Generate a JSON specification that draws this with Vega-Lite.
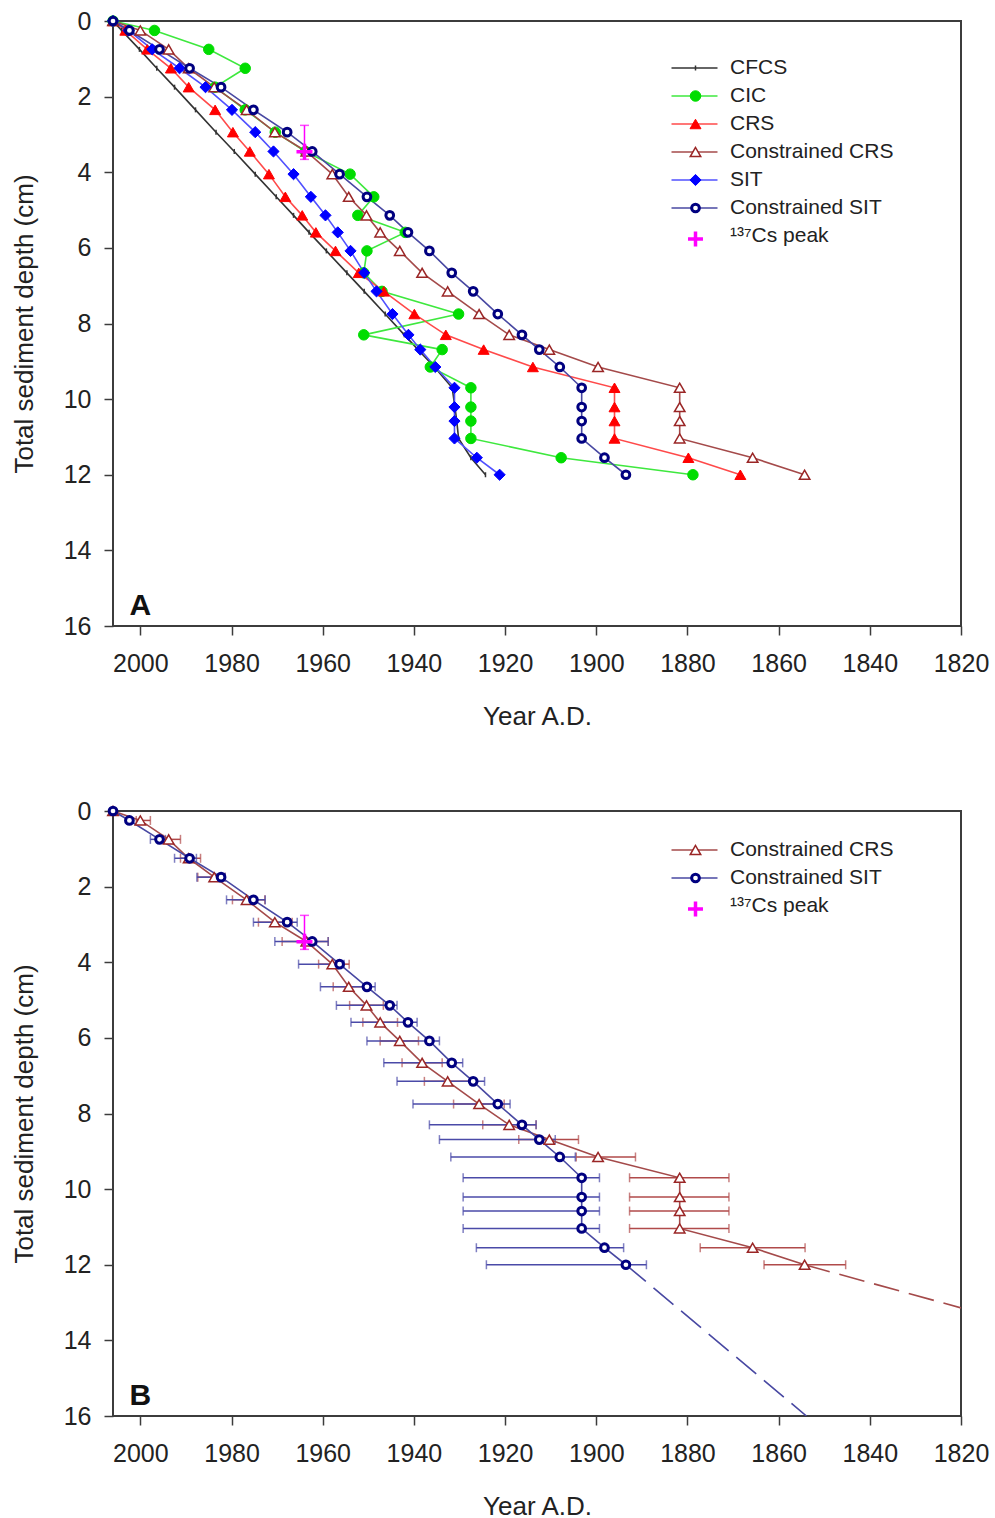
{
  "$schema": "https://vega.github.io/schema/vega-lite/v6.json",
  "background": "white",
  "padding": {"left": 10, "top": 8, "right": 5, "bottom": 0},
  "config": {
    "font": "Liberation Sans",
    "view": {"stroke": "#3c3c3c", "strokeWidth": 2},
    "axis": {
      "grid": false, "domain": false, "tickColor": "#3c3c3c", "tickSize": 9, "tickWidth": 1.5,
      "labelFont": "Liberation Sans", "labelFontSize": 25, "labelColor": "#222222",
      "titleFont": "Liberation Sans", "titleFontSize": 26, "titleFontWeight": "normal", "titleColor": "#222222",
      "labelFlush": false, "labelOverlap": false
    },
    "axisX": {"labelPadding": 16, "titlePadding": 27, "format": "d"},
    "axisY": {"labelPadding": 13, "titlePadding": 26},
    "legend": {"orient": "none", "padding": 0, "symbolSize": 100, "symbolStrokeWidth": 1.5, "symbolOpacity": 1,
      "labelFont": "Liberation Sans", "labelFontSize": 21, "labelColor": "#222222", "labelOffset": 25, "rowPadding": 6, "labelLimit": 400}
  },
  "datasets": {
    "profiles": [
      {"series": "CFCS", "depth": 0, "year": 2006},
      {"series": "CFCS", "depth": 0.25, "year": 2004.1},
      {"series": "CFCS", "depth": 0.75, "year": 2000.2},
      {"series": "CFCS", "depth": 1.25, "year": 1996.4},
      {"series": "CFCS", "depth": 1.75, "year": 1992.5},
      {"series": "CFCS", "depth": 2.35, "year": 1987.9},
      {"series": "CFCS", "depth": 2.94, "year": 1983.4},
      {"series": "CFCS", "depth": 3.45, "year": 1979.4},
      {"series": "CFCS", "depth": 4.05, "year": 1974.8},
      {"series": "CFCS", "depth": 4.65, "year": 1970.2},
      {"series": "CFCS", "depth": 5.14, "year": 1966.4},
      {"series": "CFCS", "depth": 5.59, "year": 1963.0},
      {"series": "CFCS", "depth": 6.08, "year": 1959.2},
      {"series": "CFCS", "depth": 6.66, "year": 1954.7},
      {"series": "CFCS", "depth": 7.15, "year": 1950.9},
      {"series": "CFCS", "depth": 7.75, "year": 1946.3},
      {"series": "CFCS", "depth": 8.3, "year": 1942.1},
      {"series": "CFCS", "depth": 8.69, "year": 1939.1},
      {"series": "CFCS", "depth": 9.15, "year": 1935.5},
      {"series": "CFCS", "depth": 9.7, "year": 1931.6},
      {"series": "CFCS", "depth": 10.21, "year": 1931.0},
      {"series": "CFCS", "depth": 10.58, "year": 1930.6},
      {"series": "CFCS", "depth": 11.04, "year": 1930.2},
      {"series": "CFCS", "depth": 11.55, "year": 1927.5},
      {"series": "CFCS", "depth": 12.0, "year": 1924.3},

      {"series": "CIC", "depth": 0, "year": 2006},
      {"series": "CIC", "depth": 0.25, "year": 1996.9},
      {"series": "CIC", "depth": 0.75, "year": 1985.0},
      {"series": "CIC", "depth": 1.25, "year": 1977.0},
      {"series": "CIC", "depth": 1.75, "year": 1983.6},
      {"series": "CIC", "depth": 2.35, "year": 1977.0},
      {"series": "CIC", "depth": 2.94, "year": 1970.4},
      {"series": "CIC", "depth": 3.45, "year": 1963.8},
      {"series": "CIC", "depth": 4.05, "year": 1954.0},
      {"series": "CIC", "depth": 4.65, "year": 1948.8},
      {"series": "CIC", "depth": 5.14, "year": 1952.3},
      {"series": "CIC", "depth": 5.59, "year": 1941.9},
      {"series": "CIC", "depth": 6.08, "year": 1950.3},
      {"series": "CIC", "depth": 6.66, "year": 1951.0},
      {"series": "CIC", "depth": 7.15, "year": 1947.0},
      {"series": "CIC", "depth": 7.75, "year": 1930.2},
      {"series": "CIC", "depth": 8.3, "year": 1951.0},
      {"series": "CIC", "depth": 8.69, "year": 1933.8},
      {"series": "CIC", "depth": 9.15, "year": 1936.4},
      {"series": "CIC", "depth": 9.7, "year": 1927.5},
      {"series": "CIC", "depth": 10.21, "year": 1927.5},
      {"series": "CIC", "depth": 10.58, "year": 1927.5},
      {"series": "CIC", "depth": 11.04, "year": 1927.5},
      {"series": "CIC", "depth": 11.55, "year": 1907.7},
      {"series": "CIC", "depth": 12.0, "year": 1878.8},

      {"series": "CRS", "depth": 0, "year": 2006},
      {"series": "CRS", "depth": 0.25, "year": 2003.3},
      {"series": "CRS", "depth": 0.75, "year": 1998.5},
      {"series": "CRS", "depth": 1.25, "year": 1993.3},
      {"series": "CRS", "depth": 1.75, "year": 1989.4},
      {"series": "CRS", "depth": 2.35, "year": 1983.6},
      {"series": "CRS", "depth": 2.94, "year": 1979.7},
      {"series": "CRS", "depth": 3.45, "year": 1976.0},
      {"series": "CRS", "depth": 4.05, "year": 1971.8},
      {"series": "CRS", "depth": 4.65, "year": 1968.2},
      {"series": "CRS", "depth": 5.14, "year": 1964.5},
      {"series": "CRS", "depth": 5.59, "year": 1961.5},
      {"series": "CRS", "depth": 6.08, "year": 1957.2},
      {"series": "CRS", "depth": 6.66, "year": 1952.1},
      {"series": "CRS", "depth": 7.15, "year": 1946.6},
      {"series": "CRS", "depth": 7.75, "year": 1939.9},
      {"series": "CRS", "depth": 8.3, "year": 1933.0},
      {"series": "CRS", "depth": 8.69, "year": 1924.7},
      {"series": "CRS", "depth": 9.15, "year": 1913.9},
      {"series": "CRS", "depth": 9.7, "year": 1896.0},
      {"series": "CRS", "depth": 10.21, "year": 1896.0},
      {"series": "CRS", "depth": 10.58, "year": 1896.0},
      {"series": "CRS", "depth": 11.04, "year": 1896.0},
      {"series": "CRS", "depth": 11.55, "year": 1879.8},
      {"series": "CRS", "depth": 12.0, "year": 1868.4},

      {"series": "Constrained CRS", "depth": 0, "year": 2006},
      {"series": "Constrained CRS", "depth": 0.25, "year": 2000.0, "lo": 1997.8, "hi": 2000.9},
      {"series": "Constrained CRS", "depth": 0.75, "year": 1993.8, "lo": 1991.2, "hi": 1995.0},
      {"series": "Constrained CRS", "depth": 1.25, "year": 1989.4, "lo": 1986.8, "hi": 1991.2},
      {"series": "Constrained CRS", "depth": 1.75, "year": 1983.8, "lo": 1981.4, "hi": 1987.4},
      {"series": "Constrained CRS", "depth": 2.35, "year": 1976.7, "lo": 1972.7, "hi": 1979.8},
      {"series": "Constrained CRS", "depth": 2.94, "year": 1970.5, "lo": 1966.7, "hi": 1974.1},
      {"series": "Constrained CRS", "depth": 3.45, "year": 1963.6, "lo": 1958.8, "hi": 1968.9},
      {"series": "Constrained CRS", "depth": 4.05, "year": 1957.9, "lo": 1954.2, "hi": 1960.9},
      {"series": "Constrained CRS", "depth": 4.65, "year": 1954.3, "lo": 1950.7, "hi": 1957.7},
      {"series": "Constrained CRS", "depth": 5.14, "year": 1950.4, "lo": 1946.7, "hi": 1954.1},
      {"series": "Constrained CRS", "depth": 5.59, "year": 1947.4, "lo": 1943.6, "hi": 1951.2},
      {"series": "Constrained CRS", "depth": 6.08, "year": 1943.1, "lo": 1939.0, "hi": 1947.4},
      {"series": "Constrained CRS", "depth": 6.66, "year": 1938.2, "lo": 1933.8, "hi": 1942.6},
      {"series": "Constrained CRS", "depth": 7.15, "year": 1932.6, "lo": 1927.6, "hi": 1937.7},
      {"series": "Constrained CRS", "depth": 7.75, "year": 1925.7, "lo": 1920.2, "hi": 1931.3},
      {"series": "Constrained CRS", "depth": 8.3, "year": 1919.1, "lo": 1913.2, "hi": 1924.9},
      {"series": "Constrained CRS", "depth": 8.69, "year": 1910.3, "lo": 1903.9, "hi": 1917.0},
      {"series": "Constrained CRS", "depth": 9.15, "year": 1899.6, "lo": 1891.4, "hi": 1904.4},
      {"series": "Constrained CRS", "depth": 9.7, "year": 1881.7, "lo": 1870.9, "hi": 1892.7},
      {"series": "Constrained CRS", "depth": 10.21, "year": 1881.7, "lo": 1870.9, "hi": 1892.7},
      {"series": "Constrained CRS", "depth": 10.58, "year": 1881.7, "lo": 1870.9, "hi": 1892.7},
      {"series": "Constrained CRS", "depth": 11.04, "year": 1881.7, "lo": 1870.9, "hi": 1892.7},
      {"series": "Constrained CRS", "depth": 11.55, "year": 1865.7, "lo": 1854.2, "hi": 1877.2},
      {"series": "Constrained CRS", "depth": 12.0, "year": 1854.3, "lo": 1845.3, "hi": 1863.2},

      {"series": "SIT", "depth": 0, "year": 2006},
      {"series": "SIT", "depth": 0.25, "year": 2002.6},
      {"series": "SIT", "depth": 0.75, "year": 1997.4},
      {"series": "SIT", "depth": 1.25, "year": 1991.4},
      {"series": "SIT", "depth": 1.75, "year": 1985.7},
      {"series": "SIT", "depth": 2.35, "year": 1979.9},
      {"series": "SIT", "depth": 2.94, "year": 1974.8},
      {"series": "SIT", "depth": 3.45, "year": 1970.8},
      {"series": "SIT", "depth": 4.05, "year": 1966.4},
      {"series": "SIT", "depth": 4.65, "year": 1962.6},
      {"series": "SIT", "depth": 5.14, "year": 1959.4},
      {"series": "SIT", "depth": 5.59, "year": 1956.7},
      {"series": "SIT", "depth": 6.08, "year": 1953.9},
      {"series": "SIT", "depth": 6.66, "year": 1950.9},
      {"series": "SIT", "depth": 7.15, "year": 1948.2},
      {"series": "SIT", "depth": 7.75, "year": 1944.7},
      {"series": "SIT", "depth": 8.3, "year": 1941.2},
      {"series": "SIT", "depth": 8.69, "year": 1938.6},
      {"series": "SIT", "depth": 9.15, "year": 1935.3},
      {"series": "SIT", "depth": 9.7, "year": 1931.1},
      {"series": "SIT", "depth": 10.21, "year": 1931.1},
      {"series": "SIT", "depth": 10.58, "year": 1931.1},
      {"series": "SIT", "depth": 11.04, "year": 1931.1},
      {"series": "SIT", "depth": 11.55, "year": 1926.2},
      {"series": "SIT", "depth": 12.0, "year": 1921.2},

      {"series": "Constrained SIT", "depth": 0, "year": 2006},
      {"series": "Constrained SIT", "depth": 0.25, "year": 2002.4, "lo": 2002.0, "hi": 2002.9},
      {"series": "Constrained SIT", "depth": 0.75, "year": 1995.8, "lo": 1994.5, "hi": 1997.8},
      {"series": "Constrained SIT", "depth": 1.25, "year": 1989.2, "lo": 1987.7, "hi": 1992.5},
      {"series": "Constrained SIT", "depth": 1.75, "year": 1982.3, "lo": 1981.4, "hi": 1987.6},
      {"series": "Constrained SIT", "depth": 2.35, "year": 1975.2, "lo": 1972.6, "hi": 1981.1},
      {"series": "Constrained SIT", "depth": 2.94, "year": 1967.8, "lo": 1965.6, "hi": 1975.2},
      {"series": "Constrained SIT", "depth": 3.45, "year": 1962.3, "lo": 1958.8, "hi": 1970.5},
      {"series": "Constrained SIT", "depth": 4.05, "year": 1956.3, "lo": 1955.3, "hi": 1965.3},
      {"series": "Constrained SIT", "depth": 4.65, "year": 1950.3, "lo": 1948.5, "hi": 1960.5},
      {"series": "Constrained SIT", "depth": 5.14, "year": 1945.3, "lo": 1943.7, "hi": 1957.0},
      {"series": "Constrained SIT", "depth": 5.59, "year": 1941.3, "lo": 1939.3, "hi": 1953.8},
      {"series": "Constrained SIT", "depth": 6.08, "year": 1936.6, "lo": 1934.4, "hi": 1950.3},
      {"series": "Constrained SIT", "depth": 6.66, "year": 1931.7, "lo": 1929.3, "hi": 1946.6},
      {"series": "Constrained SIT", "depth": 7.15, "year": 1927.0, "lo": 1924.5, "hi": 1943.7},
      {"series": "Constrained SIT", "depth": 7.75, "year": 1921.6, "lo": 1918.9, "hi": 1940.2},
      {"series": "Constrained SIT", "depth": 8.3, "year": 1916.3, "lo": 1913.2, "hi": 1936.6},
      {"series": "Constrained SIT", "depth": 8.69, "year": 1912.5, "lo": 1909.0, "hi": 1934.4},
      {"series": "Constrained SIT", "depth": 9.15, "year": 1908.0, "lo": 1904.6, "hi": 1931.9},
      {"series": "Constrained SIT", "depth": 9.7, "year": 1903.2, "lo": 1899.3, "hi": 1929.2},
      {"series": "Constrained SIT", "depth": 10.21, "year": 1903.2, "lo": 1899.3, "hi": 1929.2},
      {"series": "Constrained SIT", "depth": 10.58, "year": 1903.2, "lo": 1899.3, "hi": 1929.2},
      {"series": "Constrained SIT", "depth": 11.04, "year": 1903.2, "lo": 1899.3, "hi": 1929.2},
      {"series": "Constrained SIT", "depth": 11.55, "year": 1898.2, "lo": 1894.0, "hi": 1926.3},
      {"series": "Constrained SIT", "depth": 12.0, "year": 1893.5, "lo": 1889.0, "hi": 1924.1}
    ],
    "extrapolation": [
      {"series": "Constrained CRS", "depth": 12.0, "year": 1854.3},
      {"series": "Constrained CRS", "depth": 13.14, "year": 1820},
      {"series": "Constrained SIT", "depth": 12.0, "year": 1893.5},
      {"series": "Constrained SIT", "depth": 16.0, "year": 1853.9}
    ],
    "cesium": [
      {"series": "¹³⁷Cs peak", "year": 1964.0, "depth": 3.46, "dlo": 2.76, "dhi": 3.66}
    ]
  },
  "vconcat": [
    {
      "width": 848,
      "height": 605,
      "resolve": {"scale": {"color": "independent", "fill": "independent", "shape": "independent", "size": "independent", "strokeWidth": "independent", "stroke": "independent"}},
      "layer": [
        {
          "data": {"name": "profiles"},
          "mark": {"type": "line", "strokeWidth": 1.6},
          "encoding": {
            "x": {"field": "year", "type": "quantitative", "title": "Year A.D.", "scale": {"domain": [1820, 2006], "reverse": true, "nice": false, "zero": false}, "axis": {"values": [2000, 1980, 1960, 1940, 1920, 1900, 1880, 1860, 1840, 1820]}},
            "y": {"field": "depth", "type": "quantitative", "title": "Total sediment depth (cm)", "scale": {"domain": [0, 16], "reverse": true, "nice": false, "zero": false}, "axis": {"values": [0, 2, 4, 6, 8, 10, 12, 14, 16]}},
            "order": {"field": "depth", "type": "quantitative"},
            "stroke": {"field": "series", "type": "nominal",
              "scale": {"domain": ["CFCS", "CIC", "CRS", "Constrained CRS", "SIT", "Constrained SIT", "¹³⁷Cs peak"], "range": ["#333333", "#3ee83e", "#ff4a4a", "#a44a4a", "#5050ff", "#4848a2", "transparent"]},
              "legend": {"title": null, "legendX": 571, "legendY": 36.5, "symbolType": "M-4.6,0H4.6", "symbolStrokeWidth": 1.5}}
          }
        },
        {
          "data": {"name": "profiles"},
          "mark": {"type": "point", "filled": false, "opacity": 1},
          "encoding": {
            "x": {"field": "year", "type": "quantitative", "title": "Year A.D.", "scale": {"domain": [1820, 2006], "reverse": true, "nice": false, "zero": false}},
            "y": {"field": "depth", "type": "quantitative", "title": "Total sediment depth (cm)", "scale": {"domain": [0, 16], "reverse": true, "nice": false, "zero": false}},
            "color": {"field": "series", "type": "nominal",
              "scale": {"domain": ["CFCS", "CIC", "CRS", "Constrained CRS", "SIT", "Constrained SIT", "¹³⁷Cs peak"], "range": ["#333333", "#00dd00", "#ff0000", "#9a2626", "#0000ff", "#000080", "#ff00ff"]},
              "legend": {"title": null, "legendX": 572, "legendY": 36.5, "labelExpr": "' '", "labelOffset": -45}},
            "fill": {"field": "series", "type": "nominal",
              "scale": {"domain": ["CFCS", "CIC", "CRS", "Constrained CRS", "SIT", "Constrained SIT", "¹³⁷Cs peak"], "range": ["transparent", "#00dd00", "#ff0000", "#ffffff", "#0000ff", "#ffffff", "transparent"]},
              "legend": {"title": null, "legendX": 572, "legendY": 36.5, "labelExpr": "' '", "labelOffset": -45}},
            "shape": {"field": "series", "type": "nominal",
              "scale": {"domain": ["CFCS", "CIC", "CRS", "Constrained CRS", "SIT", "Constrained SIT", "¹³⁷Cs peak"], "range": ["M0,-1V1", "circle", "triangle-up", "triangle-up", "diamond", "circle", "M-2,0H2M0,-2V2"]},
              "legend": {"title": null, "legendX": 572, "legendY": 36.5, "labelExpr": "' '", "labelOffset": -45}},
            "size": {"field": "series", "type": "nominal",
              "scale": {"type": "ordinal", "domain": ["CFCS", "CIC", "CRS", "Constrained CRS", "SIT", "Constrained SIT", "¹³⁷Cs peak"], "range": [25, 110, 120, 110, 125, 60, 56]},
              "legend": {"title": null, "legendX": 572, "legendY": 36.5, "labelExpr": "' '", "labelOffset": -45}},
            "strokeWidth": {"field": "series", "type": "nominal",
              "scale": {"type": "ordinal", "domain": ["CFCS", "CIC", "CRS", "Constrained CRS", "SIT", "Constrained SIT", "¹³⁷Cs peak"], "range": [1.5, 1, 1, 1.5, 1, 3, 3.5]},
              "legend": {"title": null, "legendX": 572, "legendY": 36.5, "labelExpr": "' '", "labelOffset": -45}}
          }
        },
        {
          "data": {"name": "cesium"},
          "mark": {"type": "errorbar", "color": "#ff00ff", "thickness": 1.5, "ticks": {"size": 9}},
          "encoding": {
            "x": {"field": "year", "type": "quantitative", "title": "Year A.D.", "scale": {"domain": [1820, 2006], "reverse": true, "nice": false, "zero": false}},
            "y": {"field": "dlo", "type": "quantitative", "title": "Total sediment depth (cm)", "scale": {"domain": [0, 16], "reverse": true, "nice": false, "zero": false}},
            "y2": {"field": "dhi"}
          }
        },
        {
          "data": {"name": "cesium"},
          "mark": {"type": "point", "shape": "M-1,0H1M0,-1V1", "size": 256, "strokeWidth": 3.5, "color": "#ff00ff", "filled": false, "opacity": 1},
          "encoding": {
            "x": {"field": "year", "type": "quantitative", "title": "Year A.D.", "scale": {"domain": [1820, 2006], "reverse": true, "nice": false, "zero": false}},
            "y": {"field": "depth", "type": "quantitative", "title": "Total sediment depth (cm)", "scale": {"domain": [0, 16], "reverse": true, "nice": false, "zero": false}}
          }
        },
        {
          "data": {"values": [{}]},
          "mark": {"type": "text", "text": "A", "font": "Liberation Sans", "fontSize": 30, "fontWeight": "bold", "color": "#111111", "align": "center", "baseline": "middle"},
          "encoding": {
            "x": {"datum": 2000, "type": "quantitative", "title": "Year A.D.", "scale": {"domain": [1820, 2006], "reverse": true, "nice": false, "zero": false}},
            "y": {"datum": 15.47, "type": "quantitative", "title": "Total sediment depth (cm)", "scale": {"domain": [0, 16], "reverse": true, "nice": false, "zero": false}}
          }
        }
      ]
    },
    {
      "width": 848,
      "height": 605,
      "resolve": {"scale": {"color": "independent", "fill": "independent", "shape": "independent", "size": "independent", "strokeWidth": "independent", "stroke": "independent"}},
      "layer": [
        {
          "data": {"name": "profiles"},
          "transform": [{"filter": "datum.series === 'Constrained CRS' && datum.depth > 0"}],
          "mark": {"type": "errorbar", "color": "#b04a4a", "thickness": 1.5, "ticks": {"size": 9}},
          "encoding": {
            "x": {"field": "lo", "type": "quantitative", "title": "Year A.D.", "scale": {"domain": [1820, 2006], "reverse": true, "nice": false, "zero": false}, "axis": {"values": [2000, 1980, 1960, 1940, 1920, 1900, 1880, 1860, 1840, 1820]}},
            "x2": {"field": "hi"},
            "y": {"field": "depth", "type": "quantitative", "title": "Total sediment depth (cm)", "scale": {"domain": [0, 16], "reverse": true, "nice": false, "zero": false}, "axis": {"values": [0, 2, 4, 6, 8, 10, 12, 14, 16]}}
          }
        },
        {
          "data": {"name": "profiles"},
          "transform": [{"filter": "datum.series === 'Constrained SIT' && datum.depth > 0"}],
          "mark": {"type": "errorbar", "color": "#4a4aa8", "thickness": 1.5, "ticks": {"size": 9}},
          "encoding": {
            "x": {"field": "lo", "type": "quantitative", "title": "Year A.D.", "scale": {"domain": [1820, 2006], "reverse": true, "nice": false, "zero": false}},
            "x2": {"field": "hi"},
            "y": {"field": "depth", "type": "quantitative", "title": "Total sediment depth (cm)", "scale": {"domain": [0, 16], "reverse": true, "nice": false, "zero": false}}
          }
        },
        {
          "data": {"name": "extrapolation"},
          "mark": {"type": "line", "strokeWidth": 1.6, "strokeDash": [26, 10], "clip": true},
          "encoding": {
            "x": {"field": "year", "type": "quantitative", "title": "Year A.D.", "scale": {"domain": [1820, 2006], "reverse": true, "nice": false, "zero": false}},
            "y": {"field": "depth", "type": "quantitative", "title": "Total sediment depth (cm)", "scale": {"domain": [0, 16], "reverse": true, "nice": false, "zero": false}},
            "order": {"field": "depth", "type": "quantitative"},
            "stroke": {"field": "series", "type": "nominal", "legend": null,
              "scale": {"domain": ["Constrained CRS", "Constrained SIT"], "range": ["#a44a4a", "#4848a2"]}}
          }
        },
        {
          "data": {"name": "profiles"},
          "transform": [{"filter": "datum.series === 'Constrained CRS' || datum.series === 'Constrained SIT'"}],
          "mark": {"type": "line", "strokeWidth": 1.6},
          "encoding": {
            "x": {"field": "year", "type": "quantitative", "title": "Year A.D.", "scale": {"domain": [1820, 2006], "reverse": true, "nice": false, "zero": false}},
            "y": {"field": "depth", "type": "quantitative", "title": "Total sediment depth (cm)", "scale": {"domain": [0, 16], "reverse": true, "nice": false, "zero": false}},
            "order": {"field": "depth", "type": "quantitative"},
            "stroke": {"field": "series", "type": "nominal",
              "scale": {"domain": ["Constrained CRS", "Constrained SIT", "¹³⁷Cs peak"], "range": ["#a44a4a", "#4848a2", "transparent"]},
              "legend": {"title": null, "legendX": 571, "legendY": 28.5, "symbolType": "M-4.6,0H4.6", "symbolStrokeWidth": 1.5}}
          }
        },
        {
          "data": {"name": "profiles"},
          "transform": [{"filter": "datum.series === 'Constrained CRS' || datum.series === 'Constrained SIT'"}],
          "mark": {"type": "point", "filled": false, "opacity": 1},
          "encoding": {
            "x": {"field": "year", "type": "quantitative", "title": "Year A.D.", "scale": {"domain": [1820, 2006], "reverse": true, "nice": false, "zero": false}},
            "y": {"field": "depth", "type": "quantitative", "title": "Total sediment depth (cm)", "scale": {"domain": [0, 16], "reverse": true, "nice": false, "zero": false}},
            "color": {"field": "series", "type": "nominal",
              "scale": {"domain": ["Constrained CRS", "Constrained SIT", "¹³⁷Cs peak"], "range": ["#9a2626", "#000080", "#ff00ff"]},
              "legend": {"title": null, "legendX": 572, "legendY": 28.5, "labelExpr": "' '", "labelOffset": -45}},
            "fill": {"field": "series", "type": "nominal",
              "scale": {"domain": ["Constrained CRS", "Constrained SIT", "¹³⁷Cs peak"], "range": ["#ffffff", "#ffffff", "transparent"]},
              "legend": {"title": null, "legendX": 572, "legendY": 28.5, "labelExpr": "' '", "labelOffset": -45}},
            "shape": {"field": "series", "type": "nominal",
              "scale": {"domain": ["Constrained CRS", "Constrained SIT", "¹³⁷Cs peak"], "range": ["triangle-up", "circle", "M-2,0H2M0,-2V2"]},
              "legend": {"title": null, "legendX": 572, "legendY": 28.5, "labelExpr": "' '", "labelOffset": -45}},
            "size": {"field": "series", "type": "nominal",
              "scale": {"type": "ordinal", "domain": ["Constrained CRS", "Constrained SIT", "¹³⁷Cs peak"], "range": [110, 60, 56]},
              "legend": {"title": null, "legendX": 572, "legendY": 28.5, "labelExpr": "' '", "labelOffset": -45}},
            "strokeWidth": {"field": "series", "type": "nominal",
              "scale": {"type": "ordinal", "domain": ["Constrained CRS", "Constrained SIT", "¹³⁷Cs peak"], "range": [1.5, 3, 3.5]},
              "legend": {"title": null, "legendX": 572, "legendY": 28.5, "labelExpr": "' '", "labelOffset": -45}}
          }
        },
        {
          "data": {"name": "cesium"},
          "mark": {"type": "errorbar", "color": "#ff00ff", "thickness": 1.5, "ticks": {"size": 9}},
          "encoding": {
            "x": {"field": "year", "type": "quantitative", "title": "Year A.D.", "scale": {"domain": [1820, 2006], "reverse": true, "nice": false, "zero": false}},
            "y": {"field": "dlo", "type": "quantitative", "title": "Total sediment depth (cm)", "scale": {"domain": [0, 16], "reverse": true, "nice": false, "zero": false}},
            "y2": {"field": "dhi"}
          }
        },
        {
          "data": {"name": "cesium"},
          "mark": {"type": "point", "shape": "M-1,0H1M0,-1V1", "size": 256, "strokeWidth": 3.5, "color": "#ff00ff", "filled": false, "opacity": 1},
          "encoding": {
            "x": {"field": "year", "type": "quantitative", "title": "Year A.D.", "scale": {"domain": [1820, 2006], "reverse": true, "nice": false, "zero": false}},
            "y": {"field": "depth", "type": "quantitative", "title": "Total sediment depth (cm)", "scale": {"domain": [0, 16], "reverse": true, "nice": false, "zero": false}}
          }
        },
        {
          "data": {"values": [{}]},
          "mark": {"type": "text", "text": "B", "font": "Liberation Sans", "fontSize": 30, "fontWeight": "bold", "color": "#111111", "align": "center", "baseline": "middle"},
          "encoding": {
            "x": {"datum": 2000, "type": "quantitative", "title": "Year A.D.", "scale": {"domain": [1820, 2006], "reverse": true, "nice": false, "zero": false}},
            "y": {"datum": 15.47, "type": "quantitative", "title": "Total sediment depth (cm)", "scale": {"domain": [0, 16], "reverse": true, "nice": false, "zero": false}}
          }
        }
      ]
    }
  ],
  "spacing": 185,
  "bounds": "flush",
  "resolve": {
    "scale": {"color": "independent", "fill": "independent", "shape": "independent", "size": "independent", "strokeWidth": "independent", "stroke": "independent"}
  }
}
